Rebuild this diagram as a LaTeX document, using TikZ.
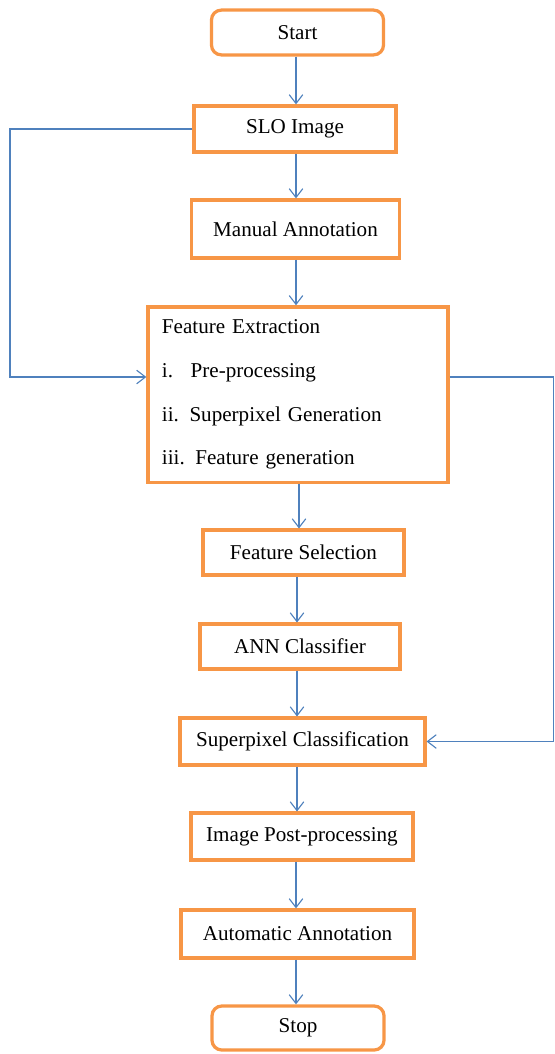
\documentclass[tikz,border=0pt]{standalone}
\usepackage{fontspec}
\setmainfont{Liberation Serif}
\usetikzlibrary{arrows.meta, positioning, calc}
\definecolor{boxorange}{RGB}{247,150,70}
\definecolor{flowblue}{RGB}{79,129,189}

\begin{document}
\begin{tikzpicture}[
	x=0.025cm, y=-0.025cm,
	% --- STYLES ---
	block/.style={
		draw=boxorange,
		line width=2.3pt,
		fill=white,
		align=center,
		inner sep=0pt,
		font=\fontsize{15}{18}\selectfont
	},
	term/.style={
		block,
		rounded corners=7pt
	},
	line/.style={
		draw=flowblue,
		line width=0.8pt,
		-{Straight Barb[length=2.2mm, width=3.4mm]}
	}
	]
	
	\useasboundingbox (0,0) rectangle (554,1054);
	
	% --- Nodes ---
	\node[term, minimum width=4.3cm, minimum height=1.12cm] (start) at (297.5,32.5) {Start};
	\node[block, minimum width=5.05cm, minimum height=1.15cm] (slo) at (295,129) {SLO Image};
	\node[block, minimum width=5.2cm, minimum height=1.45cm] (manual) at (295.5,229) {Manual Annotation};
	\node[block, minimum width=7.5cm, minimum height=4.38cm, align=left, text width=7.5cm-0.7cm, inner xsep=0.35cm] (feat) at (298,394.5)
		{Feature Extraction\\[13pt]
		 i.\enspace\ Pre-processing\\[13pt]
		 ii. Superpixel Generation\\[13pt]
		 iii. Feature generation};
	\node[block, minimum width=5.02cm, minimum height=1.12cm] (fsel) at (303.5,552.5) {Feature Selection};
	\node[block, minimum width=5cm, minimum height=1.12cm] (ann) at (300,646.5) {ANN Classifier};
	\node[block, minimum width=6.12cm, minimum height=1.17cm] (spc) at (302.5,741.5) {Superpixel Classification};
	\node[block, minimum width=5.55cm, minimum height=1.17cm] (post) at (302,836.5) {Image Post-processing};
	\node[block, minimum width=5.82cm, minimum height=1.2cm] (auto) at (297.5,934) {Automatic Annotation};
	\node[term, minimum width=4.3cm, minimum height=1.1cm] (stop) at (298,1028) {Stop};
	
	% --- Loop corners ---
	\coordinate (fin) at (148,377);
	\coordinate (lft) at (10,129);
	\coordinate (rgt) at (553.5,377);
	
	% --- Connections ---
	\draw[line] (start.south -| 296,0) -- (slo.north -| 296,0);
	\draw[line] (slo.south -| 296,0) -- (manual.north -| 296,0);
	\draw[line] (manual.south -| 296,0) -- (feat.north -| 296,0);
	\draw[line] (feat.south -| 299,0) -- (fsel.north -| 299,0);
	\draw[line] (fsel.south -| 297,0) -- (ann.north -| 297,0);
	\draw[line] (ann.south -| 297,0) -- (spc.north -| 297,0);
	\draw[line] (spc.south -| 297,0) -- (post.north -| 297,0);
	\draw[line] (post.south -| 296,0) -- (auto.north -| 296,0);
	\draw[line] (auto.south -| 296,0) -- (stop.north -| 296,0);
	
	\draw[line] (slo.west) -- (lft) |- (feat.west |- fin);
	\draw[line] (feat.east |- fin) -- (rgt) |- (spc.east);
	
\end{tikzpicture}
\end{document}
